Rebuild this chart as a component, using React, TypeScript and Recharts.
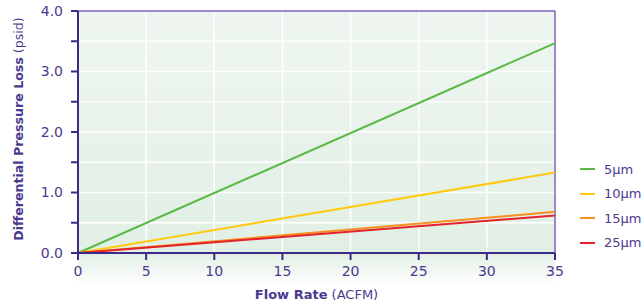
import React from "react";
import {
  LineChart,
  Line,
  XAxis,
  YAxis,
  CartesianGrid,
  ReferenceLine,
} from "recharts";

const flowRates = [0, 35];
const loss5 = [0, 3.47];
const loss10 = [0, 1.33];
const loss15 = [0, 0.68];
const loss25 = [0, 0.62];

const xTicks = [0, 5, 10, 15, 20, 25, 30, 35];
const yTicks = [0, 0.5, 1, 1.5, 2, 2.5, 3, 3.5, 4];

const series = [
  { key: "s5", name: "5µm", color: "#5ab946", values: loss5 },
  { key: "s10", name: "10µm", color: "#ffc90e", values: loss10 },
  { key: "s15", name: "15µm", color: "#f7901e", values: loss15 },
  { key: "s25", name: "25µm", color: "#e4222b", values: loss25 },
];

const data = flowRates.map((x, i) => {
  const row: Record<string, number> = { flow: x };
  series.forEach((s) => (row[s.key] = s.values[i]));
  return row;
});

const FONT = "'DejaVu Sans', sans-serif";
const INK = "#4a3a8e";
const AXIS = "#3d2a86";

function LegendBox() {
  return (
    <div
      style={{
        position: "absolute",
        left: 580,
        top: 157,
        fontFamily: FONT,
        fontSize: 13,
        color: INK,
      }}
    >
      {series.map((s) => (
        <div
          key={s.key}
          style={{ display: "flex", alignItems: "center", height: 24.5 }}
        >
          <span
            style={{
              display: "inline-block",
              width: 15,
              height: 2,
              background: s.color,
              marginRight: 9,
            }}
          />
          <span>{s.name}</span>
        </div>
      ))}
    </div>
  );
}

export default function App() {
  return (
    <div
      style={{
        position: "fixed",
        left: 0,
        top: 0,
        width: 644,
        height: 305,
        background: "#fff",
        fontFamily: FONT,
        color: INK,
      }}
    >
      <div
        style={{
          position: "absolute",
          left: 78,
          top: 253,
          width: 477,
          height: 32,
          background: "linear-gradient(#e2efe5, rgba(255,255,255,0))",
        }}
      />
      <div style={{ position: "absolute", left: 0, top: 0 }}>
        <LineChart
          width={644}
          height={305}
          data={data}
          margin={{ top: 11, right: 89, bottom: 0, left: 0 }}
        >
          <defs>
            <linearGradient id="plotBg" x1="0" y1="0" x2="0" y2="1">
              <stop offset="0%" stopColor="#eff6f1" />
              <stop offset="100%" stopColor="#e1efe4" />
            </linearGradient>
          </defs>
          <CartesianGrid
            fill="url(#plotBg)"
            stroke="#ffffff"
            strokeWidth={1.5}
            horizontalValues={yTicks}
            verticalValues={xTicks}
          />
          <XAxis
            dataKey="flow"
            type="number"
            domain={[0, 35]}
            ticks={xTicks}
            height={52}
            stroke={AXIS}
            strokeWidth={2}
            tickSize={7}
            tickMargin={6}
            tick={{ fill: INK, fontSize: 14, fontFamily: FONT }}
          />
          <YAxis
            type="number"
            domain={[0, 4]}
            ticks={yTicks}
            width={78}
            stroke={AXIS}
            strokeWidth={2}
            tickSize={7}
            tickMargin={8}
            interval={0}
            tickFormatter={(v: number) =>
              Number.isInteger(v) ? v.toFixed(1) : ""
            }
            tick={{ fill: INK, fontSize: 14, fontFamily: FONT }}
          />
          <ReferenceLine y={4} stroke="#7b62b9" strokeWidth={1.5} />
          <ReferenceLine x={35} stroke="#7b62b9" strokeWidth={1.5} />
          {series.map((s) => (
            <Line
              key={s.key}
              dataKey={s.key}
              name={s.name}
              stroke={s.color}
              strokeWidth={2}
              dot={false}
              isAnimationActive={false}
            />
          ))}
        </LineChart>
      </div>
      <div
        style={{
          position: "absolute",
          left: 78,
          width: 477,
          top: 287,
          textAlign: "center",
          fontSize: 13,
          whiteSpace: "nowrap",
        }}
      >
        <b>Flow Rate</b> (ACFM)
      </div>
      <div
        style={{
          position: "absolute",
          left: 18,
          top: 129,
          transform: "translate(-50%, -50%) rotate(-90deg)",
          fontSize: 12.6,
          whiteSpace: "nowrap",
        }}
      >
        <b>Differential Pressure Loss</b> (psid)
      </div>
      <LegendBox />
    </div>
  );
}
